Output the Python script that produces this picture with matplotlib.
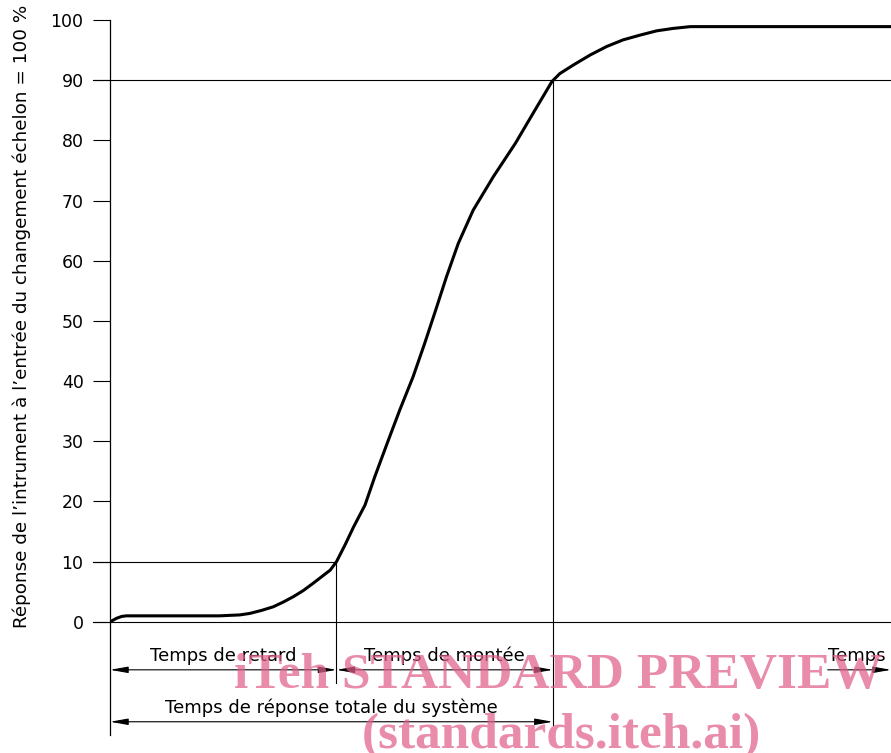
import matplotlib
matplotlib.use("Agg")
import matplotlib.pyplot as plt
import matplotlib.patches as mpatches

# step response (time in arbitrary units, response in %)
t_curve = [0, 0.85, 1.5, 2.1, 6, 10, 14, 16.6, 17.9, 19.4, 20.9, 22.2,
           23.5, 24.75, 26.0, 27.1, 28.2, 29.0, 30.1, 31.2, 32.65, 33.9,
           35.5, 37.1, 38.8, 40.3, 41.7, 43.1, 44.6, 46.5, 49.1, 51.9,
           54.4, 56.6, 57.6, 59.3, 61.5, 63.6, 65.7, 67.9, 70.0, 72.1,
           74.3, 80, 90, 100]
y_curve = [0, 0.6, 0.9, 1.0, 1.0, 1.0, 1.0, 1.15, 1.4, 1.9, 2.5, 3.3,
           4.2, 5.2, 6.4, 7.5, 8.6, 10.0, 12.8, 15.8, 19.4, 24.1,
           29.7, 35.2, 40.7, 46.3, 51.8, 57.4, 62.9, 68.4, 74.0, 79.5,
           85.0, 89.8, 91.1, 92.5, 94.2, 95.6, 96.7, 97.5, 98.2, 98.6,
           98.9, 98.9, 98.9, 98.9]

t_delay = 29.0      # end of "Temps de retard" (10 %)
t_rise = 56.7       # end of "Temps de montée" (90 %)
levels = [10, 90]
yticks = list(range(0, 101, 10))

ylabel = "Réponse de l’intrument à l’entrée du changement échelon = 100 %"
lbl_delay = "Temps de retard"
lbl_rise = "Temps de montée"
lbl_total = "Temps de réponse totale du système"
lbl_time = "Temps"

W, H = 891, 753
fig = plt.figure(figsize=(W / 100, H / 100), dpi=100)
# axes: x from px 110 to right edge, y from px 20 (100 %) down to px 735
ax = fig.add_axes([110 / W, 1 - 735 / H, 781 / W, 715 / H])
ax.set_xlim(0, 100)
ax.set_ylim(-18.8, 100)

for s in ["top", "right", "bottom"]:
    ax.spines[s].set_visible(False)
ax.spines["left"].set_linewidth(0.9)
ax.set_xticks([])
ax.set_yticks(yticks)
ax.tick_params(axis="y", direction="out", length=12, width=0.8, pad=7,
               labelsize=12.5)

fig.text(22 / W, 1 - 316 / H, ylabel, rotation=90, ha="center", va="center",
         fontsize=13.2)

tick_left = -2.2
lw_thin = 0.8
# reference lines
ax.plot([tick_left, 100], [0, 0], color="black", lw=lw_thin, clip_on=False)
ax.plot([tick_left, 100], [levels[1], levels[1]], color="black", lw=lw_thin, clip_on=False)
ax.plot([tick_left, t_delay], [levels[0], levels[0]], color="black", lw=lw_thin, clip_on=False)
ax.plot([t_delay, t_delay], [levels[0], -10.1], color="black", lw=lw_thin, clip_on=False)
ax.plot([t_rise, t_rise], [levels[1], -17.1], color="black", lw=lw_thin, clip_on=False)

# response curve
ax.plot(t_curve, y_curve, color="black", lw=2.2, solid_capstyle="round",
        solid_joinstyle="round")

# dimension arrows
style2 = mpatches.ArrowStyle("<|-|>", head_length=0.9, head_width=0.16)
style1 = mpatches.ArrowStyle("-|>", head_length=0.9, head_width=0.16)


def dim(x0, x1, y, style):
    ax.annotate("", xy=(x1, y), xytext=(x0, y),
                arrowprops=dict(arrowstyle=style, color="black", lw=lw_thin,
                                shrinkA=0, shrinkB=0, mutation_scale=12),
                annotation_clip=False)


row1, row2 = -7.97, -16.6
dim(0, t_delay, row1, style2)
dim(t_delay, t_rise, row1, style2)
dim(0, t_rise, row2, style2)
dim(91.9, 100, row1, style1)

fs = 13
ax.text(t_delay / 2, -5.65, lbl_delay, ha="center", va="center", fontsize=fs)
ax.text((t_delay + t_rise) / 2, -5.65, lbl_rise, ha="center", va="center", fontsize=fs)
ax.text(t_rise / 2, -14.3, lbl_total, ha="center", va="center", fontsize=fs)
ax.text(91.9, -5.65, lbl_time, ha="left", va="center", fontsize=fs)

# watermark
wm = dict(family="Liberation Serif", weight="bold", fontsize=37,
          color="#E0608A", alpha=0.72, ha="center", va="baseline")
fig.text(558 / W, 1 - 688 / H, "iTeh STANDARD PREVIEW", **wm)
fig.text(561 / W, 1 - 748 / H, "(standards.iteh.ai)", **wm)

fig.savefig("out.png", dpi=100)
